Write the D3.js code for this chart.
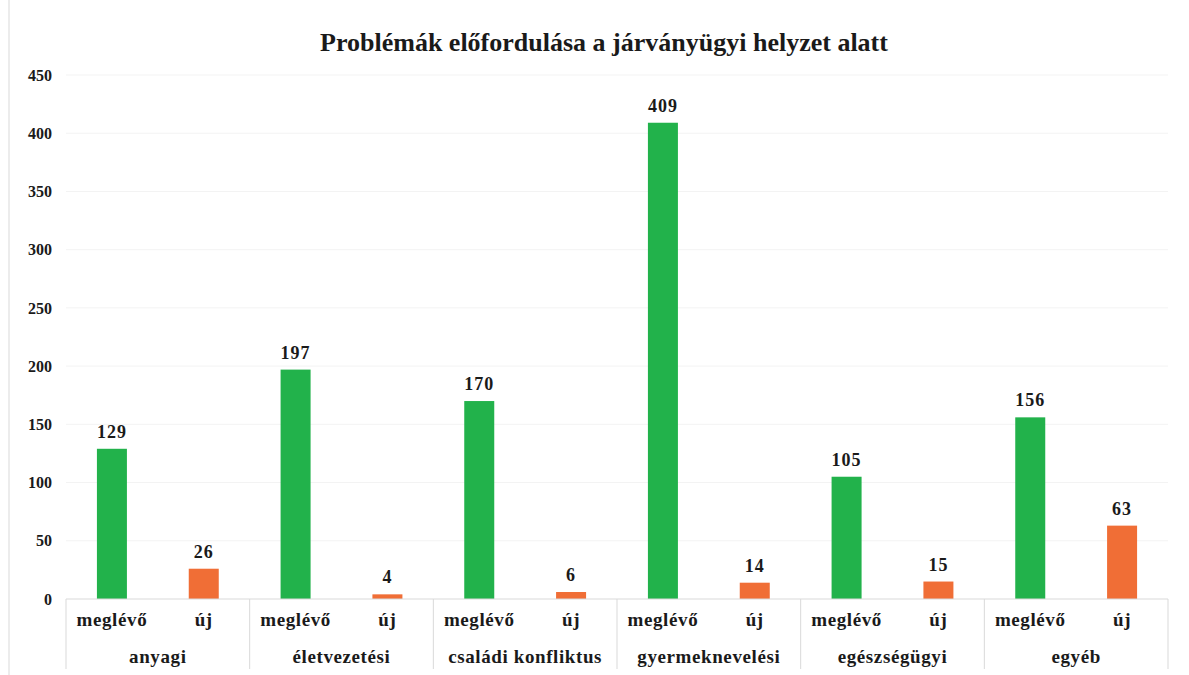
<!DOCTYPE html>
<html>
<head>
<meta charset="utf-8">
<script src="https://cdn.jsdelivr.net/npm/d3@7"></script>
<style>
html,body{margin:0;padding:0;background:#fff;}
text{font-family:"Liberation Serif","Times New Roman",serif;font-weight:bold;fill:#1a1a1a;}
</style>
</head>
<body>
<svg id="chart" width="1189" height="675"></svg>
<script>
const categories = ["anyagi","életvezetési","családi konfliktus","gyermeknevelési","egészségügyi","egyéb"];
const subgroups = ["meglévő","új"];
const existing = [129,197,170,409,105,156];
const newOnes = [26,4,6,14,15,63];
const yTicks = [0,50,100,150,200,250,300,350,400,450];
const colors = ["#22b24b","#f06e36"];
const title = "Problémák előfordulása a járványügyi helyzet alatt";

(function(){
const svg = d3.select("#chart");
const W = 1189, H = 675;
const mLeft = 66, mRight = 1168, mTop = 75, mBottom = 599;

// faint scan border
svg.append("line").attr("x1",9).attr("x2",9).attr("y1",0).attr("y2",H).attr("stroke","#ececec").attr("stroke-width",2);

const x0 = d3.scaleBand().domain(categories).range([mLeft,mRight]).paddingInner(0).paddingOuter(0);
const x1 = d3.scaleBand().domain(subgroups).range([0,x0.bandwidth()]);
const y = d3.scaleLinear().domain([0,450]).range([mBottom,mTop]);

// gridlines
svg.append("g").selectAll("line").data(yTicks.filter(d=>d>0)).join("line")
  .attr("x1",mLeft).attr("x2",mRight)
  .attr("y1",d=>y(d)).attr("y2",d=>y(d))
  .attr("stroke","#f3f3f3").attr("stroke-width",1);

// y axis labels
const yAxis = d3.axisLeft(y).tickValues(yTicks).tickSize(0).tickPadding(0);
const gy = svg.append("g").attr("transform","translate(52,0)").call(yAxis);
gy.select(".domain").remove();
gy.selectAll("text").style("font-size","16px").style("font-family","'Liberation Serif',serif").style("font-weight","bold").attr("fill","#1a1a1a");

const data = categories.map((c,i)=>({cat:c, values:[existing[i], newOnes[i]]}));
const bw = 30;

const groups = svg.append("g").selectAll("g").data(data).join("g")
  .attr("transform",d=>`translate(${x0(d.cat)},0)`);

groups.selectAll("rect").data(d=>d.values.map((v,j)=>({sub:subgroups[j],v,j}))).join("rect")
  .attr("x",d=>x1(d.sub)+x1.bandwidth()/2-bw/2)
  .attr("width",bw)
  .attr("y",d=>y(d.v))
  .attr("height",d=>y(0)-y(d.v))
  .attr("fill",d=>colors[d.j]);

groups.selectAll("text.val").data(d=>d.values.map((v,j)=>({sub:subgroups[j],v,j}))).join("text")
  .attr("class","val")
  .attr("x",d=>x1(d.sub)+x1.bandwidth()/2)
  .attr("y",d=>y(d.v)-11)
  .attr("text-anchor","middle")
  .style("font-size","18px")
  .style("letter-spacing","1px")
  .text(d=>d.v);

// sub labels
groups.selectAll("text.sub").data(subgroups).join("text")
  .attr("class","sub")
  .attr("x",d=>x1(d)+x1.bandwidth()/2)
  .attr("y",626)
  .attr("text-anchor","middle")
  .style("font-size","19px")
  .style("letter-spacing","0.6px")
  .text(d=>d);

// category labels
groups.append("text")
  .attr("x",x0.bandwidth()/2)
  .attr("y",663)
  .attr("text-anchor","middle")
  .style("font-size","19px")
  .style("letter-spacing","0.6px")
  .text(d=>d.cat);

// baseline and separators
svg.append("line").attr("x1",mLeft).attr("x2",mRight).attr("y1",mBottom).attr("y2",mBottom)
  .attr("stroke","#d9d9d9").attr("stroke-width",1);
const seps = categories.map(c=>x0(c)).concat([mRight]);
svg.append("g").selectAll("line").data(seps).join("line")
  .attr("x1",d=>d).attr("x2",d=>d).attr("y1",mBottom).attr("y2",669)
  .attr("stroke","#d9d9d9").attr("stroke-width",1);

// title
svg.append("text").attr("x",604).attr("y",51).attr("text-anchor","middle")
  .style("font-size","26px").text(title);
})();
</script>
</body>
</html>
